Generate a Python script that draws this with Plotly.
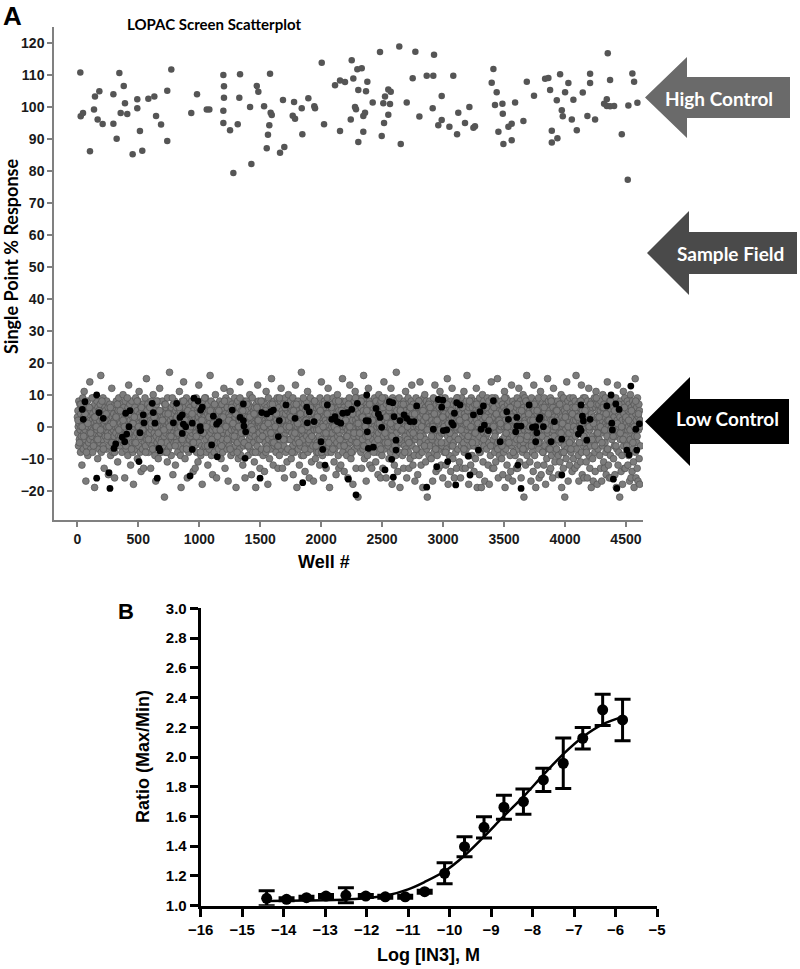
import numpy as np
import plotly.graph_objects as go

# ---------------- Panel A data (LOPAC screen) ----------------
high_well = [25,28,47,104,137,145,167,181,208,296,296,323,345,356,381,391,410,454,492,492,
             514,533,583,632,646,687,738,738,771,935,982,1062,1083,1198,1203,1203,1198,1198,1253,1280,
             1316,1329,1335,1417,1428,1472,1485,1532,1554,1564,1575,1581,1586,1595,1663,1687,1698,1767,1778,1786,
             1841,1846,1895,1944,1950,2005,2024,
             2114,2155,2196,2155,2251,2264,2297,2333,2379,2305,2368,2243,2278,2286,2346,2360,2346,2305,2423,2483,
             2497,2510,2524,2516,2551,2571,2551,2565,2641,2653,2702,2751,2773,2806,2866,2920,2926,2915,2989,2989,
             2961,3052,3084,3115,3125,3180,3216,3249,3262,3413,3399,3440,3426,3487,3490,3454,3536,3563,3495,3563,
             3591,3659,3687,3746,3837,3864,3878,3933,3960,3974,3982,4001,4028,4056,4069,3892,3892,3938,4097,4146,
             4184,4206,4206,4247,4351,4370,4343,4321,4343,4370,4403,4466,4515,4520,4553,4567,4594]
high_resp = [110.7,97,98,86.1,99.1,103.2,96,104.8,94.6,94.7,103.9,90,110.5,98,106.5,101.1,97.7,85.1,99.5,102.3,
             92.4,86.2,102.5,103.2,97.1,94.4,89.3,105,111.6,98,103.9,99.1,99.1,109.9,106.4,102.8,98.7,94.9,92.6,79.3,
             94.5,102.8,110.1,99.9,82.1,106.5,104.7,100.1,87,91.2,94.2,110.3,98.1,97.4,85.6,102.1,87.4,97.2,101.5,96.2,
             99.5,91.4,102.6,100.1,99.5,113.7,94.5,
             106.7,108.2,107.7,92.4,114.5,108.8,111.7,112,107.8,105.2,104.8,96,99.9,99.2,97.1,98.1,92.2,89,101.3,117.1,
             90.8,101.1,103.2,94.9,105.4,104.7,97.5,100.8,118.8,88.3,101.3,108.9,117.2,96.9,109.7,109.7,116.2,99.5,103.3,95.8,
             94.2,93.7,109.7,91.4,98.1,94.9,99.9,93.4,93.9,111.8,107.5,104.5,100.5,100.9,97.8,92.2,93.7,94.7,88.3,89.5,
             101.3,95.5,107.8,103.4,108.7,109,105.2,102,110.1,98.9,97,104.5,107.4,96,102.2,92.5,88.8,90.1,92.6,104.4,
             97.1,110.3,107.4,96,116.7,108.3,102.3,100.9,100.2,100.1,100.2,91.4,77.2,100.4,110.4,107.8,101.2]

black_well = [159,63,41,49,178,213,159,260,268,301,315,369,389,405,424,397,432,506,514,547,
              541,615,623,637,670,678,656,788,815,842,861,870,889,861,943,943,925,957,990,1012,
              1025,1007,1012,1116,1143,1162,1102,1148,1271,1335,1362,1362,1367,1381,1376,
              1513,1554,1587,1608,1657,1649,1499,1712,1786,1849,1882,1903,1887,1942,1999,2013,2032,2051,2087,2114,
              2133,2161,2177,2215,2251,2297,2223,2286,2368,2374,2387,2379,2387,2428,2450,2469,2483,2497,2560,2587,
              2598,2614,2614,2579,2524,2592,2647,2680,2702,2729,2762,2784,2920,2961,2998,2989,3002,2948,2866,
              3112,3139,3093,3071,3084,3030,3038,3221,3104,3249,3303,3331,3312,3339,3372,3413,3468,3290,3208,3523,
              3536,3605,3605,3596,3640,3613,3640,3706,3733,3760,3769,3788,3796,3823,3760,3886,3913,3974,3974,4132,
              4143,4151,4132,4110,4124,4179,4206,4343,4378,4417,4444,4384,4389,4540,4581,4589,4507,4526,4397,4425,4610]
black_resp = [9.9,7.8,5.4,2.3,4.4,2.6,-16.1,-14.4,-19.3,-6.8,-5.4,-3.3,-4.7,-2.3,0,4.2,5,-10.9,-1.9,1.2,
              3.7,7.3,4.4,1.1,-6.8,-7.5,-16.1,1.2,7.3,2.9,3.7,0.8,0,-2.1,1.1,-7.1,-15.4,8.9,8.0,5.2,
              6.1,0,-1.2,3.3,0.8,1.6,-5.7,-9.4,5.2,2.9,7.1,1.9,0.2,-1.6,-9.9,
              4.4,4.0,4.7,5.2,1.9,-3.1,-16.1,6.8,2.6,-17.5,6.1,4.7,1.2,1.6,-4.7,-7.1,-12,6.8,2.3,3.1,
              1.6,1.1,4.2,4.4,5.4,7.3,-16.4,-21.3,1.9,9.9,1.8,-1.6,-6.8,-6.4,5.7,4.0,2.9,-0.2,7.8,7.5,
              3.1,-4.2,-7.3,-10.2,-13.5,-15.8,1.9,3.7,2.6,1.6,1.6,6.5,-0.8,8.5,8.3,6.1,-1.2,-12.5,-18.9,
              7.5,6.8,4.2,1.2,0.5,-1.0,-10.9,-15.1,-18.2,3.7,4.7,6.5,-0.8,0.5,-1.2,8.1,-4.7,-7.3,-9.2,4.7,
              2.3,2.9,0.2,-1.6,0.2,-12,-19.3,6.8,-0.2,0,-1.9,2.3,2.9,0,-4.7,-4.7,1.6,-3.9,-15.1,6.8,
              3.3,1.8,-1.2,-2.3,-0.5,-4.2,2.3,6.5,9.9,7.1,5.4,1.1,-1.0,12.7,-0.8,-7.3,-7.3,-8.8,-16.4,-19.3,0.9]

# sample wells (gray), plate run 1 and run 2; well numbers spread over the screen
gray_resp_run1 = [
3,-2,5,0,-6,8,1,-4,2,7,-1,-8,4,0,-3,6,-12,2,-5,9,1,-7,3,-2,11,0,5,-4,-1,7,-17,2,-6,4,1,-3,8,-9,0,3,-5,6,-2,1,14,-4,2,-7,5,-1,
0,6,-3,2,-8,4,-1,9,-5,1,3,-19,7,-2,0,5,-6,2,-4,8,-1,3,-10,6,0,-3,4,-7,1,2,-5,7,-2,16,0,-8,3,5,-1,-4,2,9,-6,0,4,-13,1,-2,6,-3,
5,-1,2,-7,8,0,-4,3,-2,6,-15,1,4,-6,0,7,-3,2,-9,5,1,-2,12,-5,3,0,-8,6,-1,4,-3,2,-16,7,0,-5,3,-2,8,1,-6,4,0,-11,2,5,-3,9,-1,-4,
2,-6,4,1,-3,7,-1,0,-8,5,3,-2,10,-5,1,6,-4,0,-16,3,8,-2,4,-7,1,-1,5,-3,2,-9,6,0,13,-4,3,-1,7,-6,2,-12,0,4,-2,8,-5,1,3,-8,5,-18,
-1,4,0,-5,6,2,-3,9,-7,1,3,-2,5,-10,0,8,-4,2,-6,11,1,-1,4,-8,3,0,-14,6,-2,5,1,-7,2,-3,7,-13,0,4,-5,2,9,-1,-6,3,0,15,-4,1,6,-2,
7,-3,1,-8,4,0,-2,6,-5,3,-13,2,8,-1,0,-6,5,-4,2,10,-7,1,3,-2,6,-9,0,4,-17,1,-3,7,2,-5,0,8,-1,-10,3,5,-4,1,12,-6,2,-2,4,-8,0,3,
-4,2,8,-1,-6,3,0,5,-3,-22,7,1,-8,4,-2,6,0,-5,2,-11,9,-1,3,-7,1,4,-3,17,0,-6,5,2,-1,-9,6,0,-4,3,1,-15,7,-2,4,-5,0,8,-3,2,-12,5,
1,-5,6,-2,3,0,-8,7,-1,4,2,-6,11,-3,0,5,-9,1,-19,6,-4,2,8,-2,0,-7,3,14,-5,1,4,-1,-10,6,2,-3,0,9,-6,3,-16,1,5,-2,7,-8,0,4,-4,2,
6,0,-3,4,-7,1,8,-2,3,-5,0,-14,5,2,-1,7,-6,3,-13,0,4,-2,9,-8,1,6,-4,2,-11,0,3,13,-5,1,-1,7,-3,4,-9,2,0,-6,5,-18,1,8,-2,3,-7,0,
-2,5,3,-6,0,9,-4,1,-8,6,2,-1,4,-12,7,0,-3,5,-7,2,1,16,-5,3,-2,8,-9,0,4,-1,-15,6,2,-4,3,0,-8,7,1,-3,10,-6,4,0,-16,2,5,-1,6,-5,
4,-7,0,2,-3,8,1,-5,6,-1,-10,3,0,7,-4,2,-8,5,1,-2,12,-6,3,0,-13,4,-1,9,-5,2,0,-7,6,-3,1,-17,8,-2,4,-6,0,3,11,-4,1,-9,5,-1,2,7,
-3,1,6,-8,2,0,5,-4,9,-1,3,-6,0,-19,4,7,-2,1,-5,8,0,-10,3,-3,6,2,-7,14,0,-1,4,-9,5,2,-4,0,7,-12,1,3,-6,8,-2,0,5,-16,2,-5,4,1,
8,-2,0,-6,3,5,-9,1,-1,7,-4,2,10,-7,0,4,-3,6,-15,1,-2,9,3,-8,0,5,-5,2,-11,6,1,-3,4,-19,0,7,-1,3,-6,2,13,-4,0,8,-8,1,-2,5,-13,3,
0,5,-4,3,-7,1,8,-1,2,-9,6,0,-3,4,-14,7,-5,2,1,-8,11,0,-2,6,-6,3,-18,1,9,-4,2,0,-10,5,-1,7,-7,3,0,15,-3,2,-5,6,1,-12,4,-2,8,-6,
-5,3,7,-1,0,-8,4,2,-3,9,-6,1,-13,5,0,-2,6,-9,3,1,-4,8,-1,12,-7,2,0,5,-13,4,-3,7,1,-6,0,-16,3,9,-2,4,-8,0,6,-1,-11,2,5,-4,1,10,
2,-1,-7,6,0,4,-4,8,1,-10,3,-2,5,0,-6,9,-15,2,-3,7,1,-8,4,0,13,-5,2,-1,6,-19,3,0,-4,8,-7,1,5,-2,-12,4,0,7,-6,3,-1,17,-9,2,6,-3,
6,-4,1,-9,3,0,7,-2,-14,5,2,-6,0,8,-3,4,-1,11,-8,2,0,6,-5,-16,3,1,-2,9,-7,4,0,-11,5,-3,2,7,-6,1,-17,0,4,-1,8,-4,2,-10,6,0,3,-8,
-1,7,-5,2,4,-8,0,6,-3,1,-12,9,2,-6,3,0,14,-4,5,-1,-9,7,1,-16,4,-2,0,8,-7,3,-5,2,6,-13,0,1,-3,9,-8,4,12,-2,0,-6,5,-19,3,-1,7,-4,
3,-8,5,0,-2,7,-6,1,9,-4,2,-11,6,0,-7,3,-1,8,-15,2,4,-5,0,10,-3,6,-9,1,-13,5,-2,3,7,-6,0,-12,4,2,-4,8,-1,15,-8,3,0,-5,6,-14,1,4,
-6,2,0,8,-3,5,-9,1,3,-1,-16,6,4,-7,0,9,-2,13,-5,3,1,-10,7,-4,0,5,-8,2,-18,6,-1,4,-3,8,-7,0,11,-5,2,-13,6,-2,1,9,-6,3,-22,0,5,-3,
4,0,-5,7,-2,1,-8,6,3,-13,0,9,-4,2,-7,5,16,-1,3,-10,8,0,-6,4,-3,-17,7,1,-2,6,-9,3,0,12,-5,4,-1,8,-12,2,-7,5,0,-3,7,-13,1,6,-4,2,
-2,6,3,-7,0,9,-5,2,-1,-11,8,4,-3,0,6,-8,1,-15,5,-2,10,3,-6,0,7,-4,-16,2,8,-1,5,-9,3,0,-13,6,-3,2,14,-7,4,-1,9,-5,0,3,-16,7,-2,1,
1,-3,8,-6,4,0,-10,5,-2,7,3,-8,0,12,-4,6,-1,-18,2,9,-7,3,0,-5,6,-12,1,8,-3,4,-9,0,17,-2,5,-6,2,-14,7,0,-4,3,9,-8,1,-19,5,-1,6,-5,
7,-5,2,0,-9,4,6,-2,-13,1,8,-6,3,0,-3,11,-7,5,-1,-16,2,7,-4,0,9,-8,3,-13,1,5,-2,-10,6,0,-5,8,-1,13,-6,4,2,-12,7,-3,0,5,-9,1,-17,3,
-4,1,9,-3,5,0,-7,2,-15,6,-1,4,0,-9,8,2,14,-5,3,-2,-12,7,0,5,-8,1,-19,4,-3,9,2,-6,0,10,-4,6,-11,3,-1,8,-7,0,-22,5,2,-5,7,1,-9,4,
0,8,-6,3,-1,5,-10,7,2,-4,0,-17,6,-2,9,1,-8,4,-3,13,0,-6,2,-14,7,-1,5,-9,3,0,-5,8,-13,2,6,-3,1,11,-7,4,0,-12,9,-2,3,-6,5,-16,1,7,
5,-2,-8,4,1,9,-5,0,-12,6,3,-7,2,15,-3,0,-18,7,-1,4,-9,2,6,-4,0,-14,8,1,-6,3,12,-2,5,-10,0,7,-5,3,-16,1,-3,8,4,-8,0,6,-13,2,-1,9,
-7,3,0,6,-4,2,-11,8,-1,5,-16,0,4,-6,9,1,-3,-13,7,2,-5,0,11,-8,4,-2,6,-13,3,0,-7,8,-1,16,-4,5,2,-9,0,-18,6,-3,1,7,-6,3,-12,0,9,-2,
2,-9,6,0,-3,8,4,-6,-14,1,7,-2,3,-10,5,0,12,-5,2,-19,8,-1,4,-7,0,6,-3,-15,9,1,-8,3,-1,7,-19,4,0,-5,10,2,-11,6,-2,8,-6,1,-17,3,5,-4,
6,-3,1,-7,5,9,-2,0,-12,4,-5,8,-18,2,0,6,-9,3,-1,14,-6,5,2,-13,0,7,-4,1,-13,6,3,-8,0,9,-2,-11,4,1,-6,8,0,15,-5,2,-16,3,7,-1,-9,5,
-1,4,-6,8,0,2,-10,5,-4,7,-15,1,3,-8,6,0,11,-3,-19,2,5,-7,9,0,-2,-12,4,7,-5,1,-16,3,8,-4,0,6,-9,2,-14,5,-1,13,-6,3,0,-17,8,-3,4,-8,
3,-5,7,0,-9,2,5,-1,-13,6,-4,9,0,-13,3,-7,1,12,-2,5,-11,0,8,-6,4,-16,2,-3,7,1,-8,0,10,-5,6,-22,3,-1,9,-7,2,-12,5,0,-4,16,-9,1,6,-2,
8,-1,-6,3,0,5,-11,7,-3,2,-17,4,9,-5,0,-8,6,1,-14,3,13,-2,5,-9,0,7,-4,-19,2,8,-6,0,4,-12,1,6,-3,9,-7,-16,3,0,5,-5,11,2,-15,4,-1,7,
-3,6,2,-8,4,0,-12,9,-1,5,-6,1,-18,7,0,3,-10,6,-4,15,-2,1,8,-7,0,-14,5,3,-5,9,-13,2,0,-9,7,4,-2,-16,6,-1,12,0,-6,3,8,-11,1,-4,5,-8,
1,-7,5,0,-4,8,3,-9,-15,2,6,-2,0,-11,7,4,-5,10,1,-19,3,-8,6,0,-3,-13,9,2,-6,5,-22,0,7,-1,4,-10,3,14,-7,1,-4,8,-17,0,6,-2,2,-12,9,-5,
5,0,-8,3,7,-4,-14,1,6,-1,9,-10,2,-6,0,4,-13,8,-3,2,16,-7,0,5,-12,3,-1,7,-9,0,-17,6,2,-5,8,-2,-11,4,0,13,-8,1,-15,5,3,-6,9,-1,-16,2,
-5,2,9,-2,0,6,-11,4,-7,1,-16,8,3,-4,0,12,-9,5,-1,-13,7,2,-6,0,-19,4,8,-3,6,-10,1,-17,3,0,-5,9,2,-8,-14,6,0,11,-4,7,-2,-18,3,1,-7,5,
0,7,-4,3,-9,1,5,-13,8,-2,0,-17,6,2,-6,10,-1,4,-11,7,0,-13,3,-5,9,1,-8,-15,5,0,-3,14,2,-7,6,-12,0,4,-16,8,-1,3,-9,5,-16,1,7,-4,0,2,
4,-2,0,-10,6,3,-6,8,-15,1,-3,9,0,-19,5,-7,2,13,-1,-12,7,4,-8,0,6,-22,3,-4,8,1,-14,0,5,-9,2,-18,7,-1,11,-6,4,0,-13,9,-3,-13,2,6,-5,1,
-6,3,8,-1,-12,5,0,-9,7,2,-17,4,-4,10,1,-16,6,-2,3,-14,0,8,-7,5,-11,1,-19,7,-3,0,15,-8,4,-16,2,6,-5,-13,9,0,-17,3,-1,7,-10,5,-18,2,0,-6]

gray_resp_run2 = [
2,-5,7,0,-3,4,-8,1,6,-2,9,-6,3,0,-4,5,-1,8,-7,2,4,-3,0,6,-5,1,-8,3,7,-1,5,-4,2,0,-6,9,-2,4,-7,1,3,-5,8,0,-3,6,-1,2,-8,5,
-4,6,1,-7,3,0,8,-2,5,-5,2,-1,7,-8,4,0,-3,9,1,-6,3,-2,6,0,-4,8,2,-7,5,-1,0,4,-5,7,-3,1,6,-8,2,-2,9,0,-6,3,5,-4,1,7,-1,-3,
5,-1,-6,3,8,0,-4,2,-7,6,1,-3,4,-8,0,9,-2,5,-5,1,7,-6,3,0,-1,4,-8,6,2,-4,8,-3,0,5,-7,1,3,-2,7,-5,0,4,-6,9,-1,2,-4,6,0,-7,
0,3,-8,5,-2,7,1,-5,4,-1,9,-7,2,0,-4,6,-3,1,8,-6,3,-1,5,-8,0,7,-2,4,-5,2,6,-7,0,3,-1,8,-4,5,1,-6,2,-3,7,0,-8,4,-2,9,-5,1,
-2,8,3,-6,0,5,-3,7,-1,2,-8,4,6,-4,1,-7,9,0,-2,3,-5,6,1,-3,8,-6,2,0,-4,5,-1,7,-8,3,0,-5,6,2,-2,4,-7,1,8,-3,0,5,-6,3,-1,7,
6,-3,0,4,-7,2,8,-1,-5,3,0,-8,7,1,-2,5,-6,4,0,9,-4,2,-1,6,-7,3,1,-3,8,0,-5,4,-2,7,1,-8,5,0,-4,3,6,-1,2,-6,9,0,-3,4,-7,2,
1,-6,4,9,-2,0,-5,6,3,-8,2,-1,7,0,-4,5,-7,1,8,-3,4,0,-6,2,7,-2,5,-5,0,3,-8,6,1,-1,4,-7,8,2,-3,0,5,-4,7,-2,1,-8,3,6,0,-5,
-7,4,0,6,-1,3,-5,8,1,-3,5,-8,2,0,7,-4,1,-6,9,-2,3,0,-5,6,-1,4,-7,2,8,0,-3,5,-6,1,7,-2,0,-4,6,3,-8,2,-1,5,-5,0,8,-3,4,1]

# ---------------- Panel B data (dose response) ----------------
log_conc = [-14.41,-13.93,-13.45,-12.98,-12.5,-12.02,-11.55,-11.07,-10.6,-10.12,
            -9.64,-9.17,-8.69,-8.22,-7.74,-7.26,-6.79,-6.31,-5.83]
ratio_mean = [1.05,1.043,1.054,1.065,1.07,1.065,1.06,1.06,1.094,1.218,
              1.397,1.527,1.662,1.70,1.846,1.958,2.126,2.317,2.249]
ratio_sem = [0.05,0.01,0.01,0.01,0.05,0.01,0.01,0.01,0.01,0.07,
             0.067,0.072,0.08,0.085,0.078,0.17,0.073,0.105,0.14]
fit_log_conc = [-14.4,-13.5,-12.5,-12.0,-11.5,-11.0,-10.6,-10.1,-9.65,-9.17,
                -8.7,-8.22,-7.74,-7.26,-6.78,-6.31,-5.83]
fit_ratio = [1.032,1.035,1.042,1.05,1.07,1.11,1.16,1.235,1.334,1.464,
             1.60,1.733,1.88,2.02,2.137,2.22,2.27]

# ---------------- figure ----------------
W, H = 800, 969
def px(x):
    return x / W
def py(y):
    return 1 - y / H

ARIAL = "Liberation Sans, Arial, sans-serif"
CALIBRI = "Lato, Carlito, Calibri, sans-serif"

fig = go.Figure()

gray_well_1 = np.linspace(1, 4620, len(gray_resp_run1))
gray_well_2 = np.linspace(6, 4615, len(gray_resp_run2))
gray_marker = dict(size=6.8, color="#7c7c7c", line=dict(color="#555555", width=0.7))
fig.add_trace(go.Scatter(x=gray_well_1, y=gray_resp_run1, mode="markers",
                         marker=gray_marker, xaxis="x", yaxis="y", hoverinfo="skip"))
fig.add_trace(go.Scatter(x=gray_well_2, y=gray_resp_run2, mode="markers",
                         marker=gray_marker, xaxis="x", yaxis="y", hoverinfo="skip"))
fig.add_trace(go.Scatter(x=black_well, y=black_resp, mode="markers",
                         marker=dict(size=6.8, color="#000000"),
                         xaxis="x", yaxis="y", hoverinfo="skip"))
fig.add_trace(go.Scatter(x=high_well, y=high_resp, mode="markers",
                         marker=dict(size=6.5, color="#555555"),
                         xaxis="x", yaxis="y", hoverinfo="skip"))

# Panel B
fig.add_trace(go.Scatter(x=fit_log_conc, y=fit_ratio, mode="lines",
                         line=dict(color="black", width=2.5, shape="spline"),
                         xaxis="x2", yaxis="y2", hoverinfo="skip"))
fig.add_trace(go.Scatter(x=log_conc, y=ratio_mean, mode="markers",
                         marker=dict(size=11, color="black"),
                         error_y=dict(type="data", array=ratio_sem, color="black",
                                      thickness=3, width=8),
                         cliponaxis=False,
                         xaxis="x2", yaxis="y2", hoverinfo="skip"))

gray_axis = "#808080"
fig.update_layout(
    width=W, height=H, showlegend=False, template="none",
    margin=dict(l=0, r=0, t=0, b=0, autoexpand=False),
    paper_bgcolor="white", plot_bgcolor="white",
    xaxis=dict(domain=[px(54), px(643)], range=[-191, 4640], automargin=False,
               tickvals=list(range(0, 4501, 500)),
               showline=True, linecolor=gray_axis, linewidth=1.5,
               ticks="outside", ticklen=5, tickcolor=gray_axis, tickwidth=1.5,
               tickfont=dict(family=ARIAL, size=14, color="#1a1a1a", weight="bold"),
               showgrid=False, zeroline=False, anchor="y"),
    yaxis=dict(domain=[py(520), py(27)], range=[-29.16, 124.9], automargin=False,
               tickvals=list(range(-20, 121, 10)),
               showline=True, linecolor=gray_axis, linewidth=1.5,
               ticks="outside", ticklen=5, tickcolor=gray_axis, tickwidth=1.5,
               tickfont=dict(family=ARIAL, size=14, color="#1a1a1a", weight="bold"),
               showgrid=False, zeroline=False, anchor="x"),
    xaxis2=dict(domain=[px(200.7), px(657)], range=[-16, -5], automargin=False,
                tickvals=list(range(-16, -4)),
                showline=True, linecolor="black", linewidth=3,
                ticks="outside", ticklen=8, tickcolor="black", tickwidth=3,
                tickfont=dict(family=ARIAL, size=15, color="black", weight="bold"),
                showgrid=False, zeroline=False, anchor="y2"),
    yaxis2=dict(domain=[py(905.7), py(608.3)], range=[1.0, 3.0], automargin=False,
                tickvals=[1.0, 1.2, 1.4, 1.6, 1.8, 2.0, 2.2, 2.4, 2.6, 2.8, 3.0],
                tickformat=".1f",
                showline=True, linecolor="black", linewidth=3,
                ticks="outside", ticklen=8, tickcolor="black", tickwidth=3,
                tickfont=dict(family=ARIAL, size=15, color="black", weight="bold"),
                showgrid=False, zeroline=False, anchor="x2"),
)

# Arrows (right of panel A)
def arrow(tip_x, tip_y, head_x, head_top, head_bot, shaft_top, shaft_bot, right_x, color):
    pts = [(tip_x, tip_y), (head_x, head_top), (head_x, shaft_top), (right_x, shaft_top),
           (right_x, shaft_bot), (head_x, shaft_bot), (head_x, head_bot)]
    path = "M " + " L ".join(f"{px(a):.5f},{py(b):.5f}" for a, b in pts) + " Z"
    fig.add_shape(type="path", path=path, xref="paper", yref="paper",
                  fillcolor=color, line=dict(width=0), layer="above")

arrow(645, 97.5, 687, 57, 138, 77, 118, 790, "#6a6a6a")
arrow(647, 253, 689, 211, 295, 232, 274, 797, "#4a4a4a")
arrow(645, 421.5, 690, 377, 466, 399, 444, 789, "#000000")

def label(text, x, y, size, family, color="black", angle=0, weight="bold",
          yanchor="middle"):
    fig.add_annotation(text=text, x=px(x), y=py(y), xref="paper", yref="paper",
                       showarrow=False, xanchor="center", yanchor=yanchor, textangle=angle,
                       borderpad=0,
                       font=dict(family=family, size=size, color=color, weight=weight))

label("High Control", 719, 98, 19, CALIBRI, color="white")
label("Sample Field", 730, 253, 19, CALIBRI, color="white")
label("Low Control", 727, 419, 19, CALIBRI, color="white")

label("A", 12.5, 0, 26, ARIAL, yanchor="top")
label("LOPAC Screen Scatterplot", 214, 24, 15, CALIBRI)
label("Single Point % Response", 11, 256, 18, CALIBRI, angle=-90)
label("Well #", 324, 562, 18, ARIAL)

label("B", 126.5, 611, 22, ARIAL)
label("Ratio (Max/Min)", 143, 757, 18, ARIAL, angle=-90)
label("Log [IN3], M", 428.5, 955, 18, ARIAL)

# remove the default 8px page margin so the 800x969 figure fills the window
fig.write_html("out.html", config={"displayModeBar": False},
               post_script="document.body.style.margin='0px';")
